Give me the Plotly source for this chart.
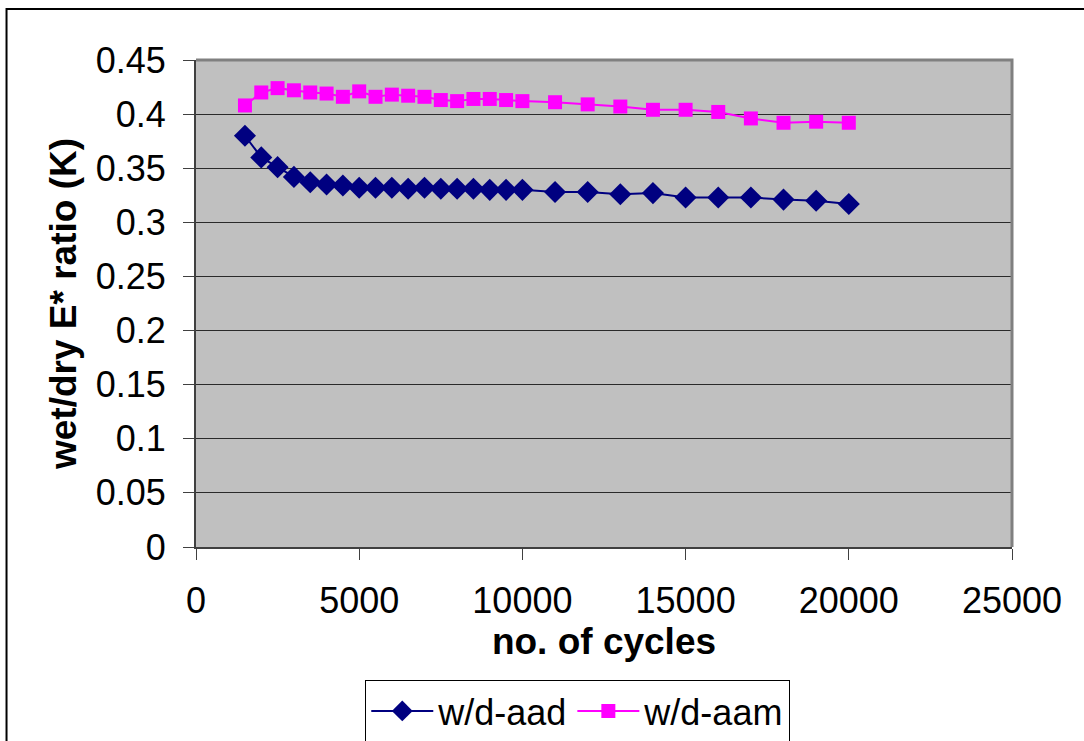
import plotly.graph_objects as go

# Number of load cycles at each measurement
cycles = [1500, 2000, 2500, 3000, 3500, 4000, 4500, 5000, 5500, 6000, 6500,
          7000, 7500, 8000, 8500, 9000, 9500, 10000, 11000, 12000, 13000,
          14000, 15000, 16000, 17000, 18000, 19000, 20000]

# Wet/dry dynamic modulus ratio for each mix
ratio_aad = [0.380, 0.360, 0.351, 0.342, 0.337, 0.335, 0.334, 0.332, 0.332,
             0.332, 0.331, 0.332, 0.331, 0.331, 0.331, 0.330, 0.330, 0.330,
             0.328, 0.328, 0.326, 0.327, 0.323, 0.323, 0.323, 0.321, 0.320,
             0.317]
ratio_aam = [0.408, 0.420, 0.424, 0.422, 0.420, 0.419, 0.416, 0.421, 0.416,
             0.418, 0.417, 0.416, 0.413, 0.412, 0.414, 0.414, 0.413, 0.412,
             0.411, 0.409, 0.407, 0.404, 0.404, 0.402, 0.396, 0.392, 0.393,
             0.392]

x_ticks = [0, 5000, 10000, 15000, 20000, 25000]
y_ticks = [0, 0.05, 0.1, 0.15, 0.2, 0.25, 0.3, 0.35, 0.4, 0.45]

FONT = "Liberation Sans, Arial, sans-serif"

fig = go.Figure()
fig.add_trace(go.Scatter(
    x=cycles, y=ratio_aad, name="w/d-aad", mode="lines+markers",
    line=dict(color="#000080", width=2),
    marker=dict(symbol="diamond", size=17, color="#000080"),
))
fig.add_trace(go.Scatter(
    x=cycles, y=ratio_aam, name="w/d-aam", mode="lines+markers",
    line=dict(color="#FF00FF", width=2),
    marker=dict(symbol="square", size=14, color="#FF00FF"),
))

fig.update_layout(
    width=1084, height=741,
    margin=dict(l=196, r=72, t=60, b=194, autoexpand=False),
    paper_bgcolor="white",
    plot_bgcolor="#C0C0C0",
    font=dict(family=FONT, size=36, color="black"),
    showlegend=True,
    legend=dict(
        orientation="h", xref="container", yref="container",
        x=0.533, xanchor="center", y=0.0823, yanchor="top",
        bordercolor="black", borderwidth=1, bgcolor="white",
        font=dict(size=36), itemwidth=62, tracegroupgap=0,
    ),
    shapes=[
        # outer chart frame
        dict(type="rect", xref="paper", yref="paper",
             x0=-0.2322, x1=1.3, y0=-0.6, y1=1.1047,
             line=dict(color="black", width=2), layer="below"),
        # plot area border (top and right)
        dict(type="path", xref="paper", yref="paper",
             path="M 0 1 L 1 1 L 1 0",
             line=dict(color="#808080", width=3)),
    ],
)

fig.update_xaxes(
    range=[0, 25000], tickvals=x_ticks, tickformat="d",
    showgrid=False, zeroline=False, automargin=False,
    showline=True, linecolor="#404040", linewidth=2,
    ticks="outside", ticklen=11, tickcolor="#404040", tickwidth=1,
    ticklabelstandoff=10,
    title=dict(text="<b>no. of cycles</b>", font=dict(size=37), standoff=0),
)
fig.update_yaxes(
    range=[0, 0.45], tickvals=y_ticks,
    showgrid=True, gridcolor="#2a2a2a", gridwidth=1,
    zeroline=False, automargin=False,
    showline=True, linecolor="#404040", linewidth=2,
    ticks="outside", ticklen=11, tickcolor="#404040", tickwidth=1,
    ticklabelstandoff=10,
    title=dict(text="<b>wet/dry E* ratio (K)</b>", font=dict(size=37),
               standoff=8),
)

fig.write_html("out.html")
